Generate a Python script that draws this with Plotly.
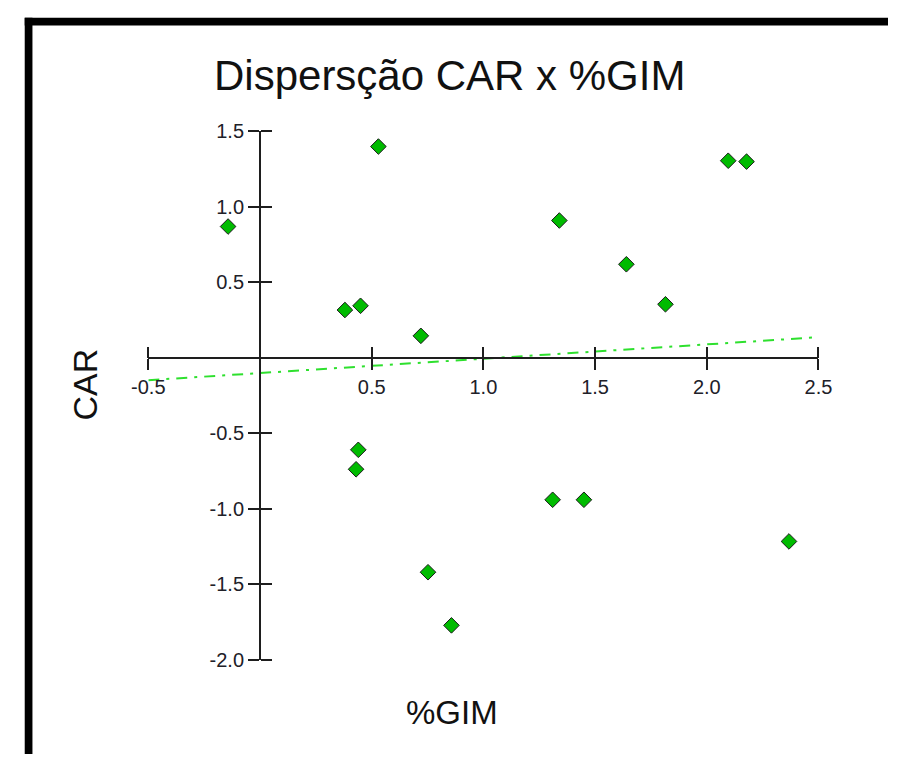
import plotly.graph_objects as go

# ---- data ----
gim = [-0.143, 0.53, 0.38, 0.45, 0.72, 0.44, 0.43, 0.752, 0.857,
       1.34, 1.64, 1.815, 1.31, 1.45, 2.096, 2.178, 2.368]
car = [0.87, 1.40, 0.317, 0.345, 0.146, -0.609, -0.738, -1.42, -1.772,
       0.91, 0.62, 0.355, -0.94, -0.94, 1.306, 1.30, -1.216]

trend_x = [-0.5, 2.5]
trend_y = [-0.148, 0.137]

x_tickvals = [-0.5, 0.5, 1.0, 1.5, 2.0, 2.5]
x_ticktext = ["-0.5", "0.5", "1.0", "1.5", "2.0", "2.5"]
y_tickvals = [1.5, 1.0, 0.5, -0.5, -1.0, -1.5, -2.0]
y_ticktext = ["1.5", "1.0", "0.5", "-0.5", "-1.0", "-1.5", "-2.0"]

title_text = "Dispersção CAR x %GIM"
x_title = "%GIM"
y_title = "CAR"

# ---- layout geometry (pixels) ----
W, H = 902, 765
x_range = [-0.5, 2.5]
y_range = [-2.0, 1.5]
xd = [136 / W, 830 / W]
yd = [1 - 668 / H, 1 - 124 / H]

def xfrac(v):
    return xd[0] + (v - x_range[0]) / (x_range[1] - x_range[0]) * (xd[1] - xd[0])

def yfrac(v):
    return yd[0] + (v - y_range[0]) / (y_range[1] - y_range[0]) * (yd[1] - yd[0])

FONT = "Liberation Sans, Arial, sans-serif"
AX = "#1e1e1e"
TICKFONT = dict(family=FONT, size=20, color="#202028")

fig = go.Figure()

fig.add_trace(go.Scatter(
    x=trend_x, y=trend_y, mode="lines",
    line=dict(color="#2ee02e", width=2, dash="11px,7px,3px,7px"),
    hoverinfo="skip", showlegend=False, cliponaxis=False,
))

fig.add_trace(go.Scatter(
    x=gim, y=car, mode="markers",
    marker=dict(symbol="diamond", size=12, color="#00bb00",
                line=dict(color="#1a1a1a", width=1)),
    showlegend=False, cliponaxis=False,
))

# invisible trace to activate overlay axes (for crossing ticks)
fig.add_trace(go.Scatter(
    x=[1.0], y=[0.0], xaxis="x2", yaxis="y2", mode="markers",
    marker=dict(opacity=0), hoverinfo="skip", showlegend=False,
))

common = dict(showgrid=False, zeroline=False, fixedrange=True)

fig.update_layout(
    width=W, height=H,
    margin=dict(l=0, r=0, t=0, b=0),
    paper_bgcolor="white", plot_bgcolor="rgba(0,0,0,0)",
    xaxis=dict(
        range=x_range, domain=xd, anchor="free", position=yfrac(0),
        side="bottom", showline=True, linecolor=AX, linewidth=2,
        ticks="outside", ticklen=11, tickwidth=2, tickcolor=AX,
        tickvals=x_tickvals, ticktext=x_ticktext, tickfont=TICKFONT,
        **common,
    ),
    yaxis=dict(
        range=y_range, domain=yd, anchor="free", position=xfrac(0),
        side="left", showline=True, linecolor=AX, linewidth=2,
        ticks="outside", ticklen=11, tickwidth=2, tickcolor=AX,
        tickvals=y_tickvals, ticktext=y_ticktext, tickfont=TICKFONT,
        **common,
    ),
    xaxis2=dict(
        range=x_range, domain=xd, overlaying="x", anchor="free",
        position=yfrac(0), side="top", showline=False,
        ticks="outside", ticklen=11, tickwidth=2, tickcolor=AX,
        tickvals=x_tickvals, showticklabels=False, **common,
    ),
    yaxis2=dict(
        range=y_range, domain=yd, overlaying="y", anchor="free",
        position=xfrac(0), side="right", showline=False,
        ticks="outside", ticklen=11, tickwidth=2, tickcolor=AX,
        tickvals=y_tickvals, showticklabels=False, **common,
    ),
    annotations=[
        dict(text=title_text, x=448 / W, y=1 - 66 / H, xref="paper", yref="paper",
             showarrow=False, xanchor="center", yanchor="middle",
             font=dict(family=FONT, size=42, color="#111111")),
        dict(text=x_title, x=450 / W, y=1 - 722 / H, xref="paper", yref="paper",
             showarrow=False, xanchor="center", yanchor="middle",
             font=dict(family=FONT, size=33, color="#111111")),
        dict(text=y_title, x=70 / W, y=1 - 385 / H, xref="paper", yref="paper",
             showarrow=False, xanchor="center", yanchor="middle", textangle=-90,
             font=dict(family=FONT, size=34, color="#111111")),
    ],
    shapes=[
        dict(type="rect", xref="paper", yref="paper",
             x0=8 / W, x1=16 / W, y0=0, y1=1 - 7 / H,
             fillcolor="black", line=dict(width=0)),
        dict(type="rect", xref="paper", yref="paper",
             x0=8 / W, x1=1, y0=1 - 15 / H, y1=1 - 7 / H,
             fillcolor="black", line=dict(width=0)),
    ],
)

fig.write_html(
    "out.html",
    config={"displayModeBar": False},
    post_script="document.body.style.margin='0';document.body.style.padding='0';"
                "document.documentElement.style.overflow='hidden';",
)
